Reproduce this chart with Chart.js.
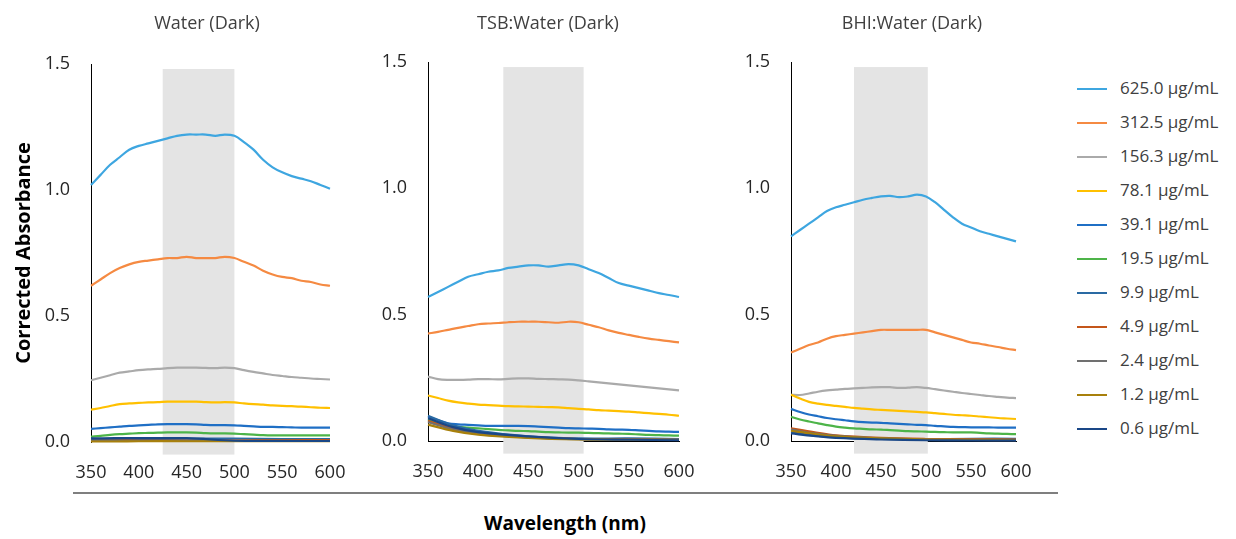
<!DOCTYPE html>
<html>
<head>
<meta charset="utf-8">
<script src="https://cdn.jsdelivr.net/npm/chart.js@4.4.1/dist/chart.umd.min.js"></script>
<style>
  body { margin: 0; background: #fff; font-family: "Open Sans", sans-serif; }
  #wrap { position: relative; width: 1236px; height: 539px; overflow: hidden; }
  canvas { position: absolute; top: 0; }
  .title { position: absolute; top: 10px; font-size: 18px; color: #404040; text-align: center; }
  #legend { position: absolute; left: 1077px; top: 77px; font-size: 17px; color: #404040; }
  #legend div { height: 34px; line-height: 22px; white-space: nowrap; }
  #legend span { display: inline-block; width: 30px; height: 2px; vertical-align: middle; margin-right: 13px; }
  #xline { position: absolute; left: 73px; top: 492px; width: 985px; height: 2px; background: #7f7f7f; }
  #xtitle { position: absolute; left: 0; width: 1130px; top: 510px; text-align: center; font-size: 19px; font-weight: bold; color: #000; }
</style>
</head>
<body>
<div id="wrap">
  <canvas id="c1" width="350" height="500" style="left:0px"></canvas>
  <canvas id="c2" width="339" height="500" style="left:360px"></canvas>
  <canvas id="c3" width="316" height="500" style="left:720px"></canvas>
  <div class="title" style="left:107px;width:200px">Water (Dark)</div>
  <div class="title" style="left:448px;width:200px">TSB:Water (Dark)</div>
  <div class="title" style="left:812px;width:200px">BHI:Water (Dark)</div>
  <div id="legend"></div>
  <div id="xline"></div>
  <div id="xtitle">Wavelength (nm)</div>
</div>
<script>
const wavelengths = [350, 360, 370, 380, 390, 400, 410, 420, 430, 440, 450, 460, 470, 480, 490, 500, 510, 520, 530, 540, 550, 560, 570, 580, 590, 600];
const coarse = [350, 375, 400, 450, 500, 550, 600];

const labels = ["625.0 µg/mL", "312.5 µg/mL", "156.3 µg/mL", "78.1 µg/mL", "39.1 µg/mL", "19.5 µg/mL", "9.9 µg/mL", "4.9 µg/mL", "2.4 µg/mL", "1.2 µg/mL", "0.6 µg/mL"];
const colors = ["#3ea6e0", "#f58a42", "#aaaaaa", "#ffc000", "#1f6fc5", "#4db449", "#2a6aa3", "#c4561a", "#707070", "#a8800c", "#1a4787"];

// Water (Dark)
const water625 = [1.02, 1.06, 1.10, 1.13, 1.16, 1.175, 1.185, 1.195, 1.205, 1.215, 1.22, 1.22, 1.22, 1.215, 1.22, 1.215, 1.19, 1.16, 1.12, 1.09, 1.07, 1.055, 1.045, 1.035, 1.02, 1.005];
const water312 = [0.62, 0.645, 0.67, 0.69, 0.705, 0.715, 0.72, 0.725, 0.73, 0.73, 0.735, 0.73, 0.73, 0.73, 0.735, 0.73, 0.715, 0.70, 0.68, 0.665, 0.655, 0.65, 0.64, 0.635, 0.625, 0.62];
const water156 = [0.245, 0.255, 0.265, 0.275, 0.28, 0.285, 0.288, 0.29, 0.293, 0.295, 0.295, 0.295, 0.294, 0.293, 0.295, 0.293, 0.285, 0.278, 0.272, 0.266, 0.262, 0.258, 0.255, 0.252, 0.25, 0.248];
const water78 = [0.128, 0.135, 0.143, 0.15, 0.153, 0.155, 0.157, 0.158, 0.16, 0.16, 0.16, 0.16, 0.158, 0.157, 0.158, 0.157, 0.153, 0.15, 0.148, 0.145, 0.143, 0.142, 0.14, 0.138, 0.136, 0.135];
const water39 = [0.052, 0.055, 0.058, 0.061, 0.064, 0.066, 0.068, 0.07, 0.071, 0.071, 0.071, 0.07, 0.068, 0.067, 0.067, 0.066, 0.064, 0.062, 0.06, 0.06, 0.059, 0.058, 0.057, 0.057, 0.057, 0.057];
const water19 = [0.021, 0.024, 0.028, 0.031, 0.033, 0.035, 0.036, 0.037, 0.038, 0.038, 0.038, 0.037, 0.035, 0.034, 0.034, 0.033, 0.031, 0.029, 0.027, 0.026, 0.026, 0.026, 0.026, 0.026, 0.026, 0.026];
const water9 = [0.010, 0.011, 0.012, 0.013, 0.013, 0.012, 0.012];
const water4 = [0.005, 0.006, 0.006, 0.006, 0.006, 0.007, 0.008];
const water2 = [0.004, 0.004, 0.004, 0.004, 0.004, 0.004, 0.004];
const water1 = [0.002, 0.002, 0.003, 0.003, 0.003, 0.003, 0.003];
const water06 = [0.014, 0.015, 0.015, 0.015, 0.005, 0.004, 0.004];

// TSB:Water (Dark)
const tsb625 = [0.57, 0.59, 0.61, 0.63, 0.65, 0.66, 0.67, 0.675, 0.685, 0.69, 0.695, 0.695, 0.69, 0.695, 0.70, 0.695, 0.68, 0.665, 0.645, 0.625, 0.615, 0.605, 0.595, 0.585, 0.578, 0.57];
const tsb312 = [0.425, 0.432, 0.44, 0.448, 0.455, 0.462, 0.465, 0.467, 0.47, 0.472, 0.472, 0.472, 0.47, 0.468, 0.472, 0.47, 0.46, 0.45, 0.438, 0.428, 0.42, 0.412, 0.405, 0.40, 0.395, 0.39];
const tsb156 = [0.255, 0.245, 0.242, 0.242, 0.243, 0.245, 0.245, 0.244, 0.246, 0.248, 0.248, 0.246, 0.245, 0.244, 0.243, 0.24, 0.236, 0.232, 0.228, 0.224, 0.22, 0.216, 0.212, 0.208, 0.204, 0.20];
const tsb78 = [0.18, 0.17, 0.16, 0.153, 0.148, 0.144, 0.142, 0.14, 0.138, 0.137, 0.136, 0.135, 0.134, 0.133, 0.13, 0.127, 0.125, 0.122, 0.12, 0.118, 0.116, 0.113, 0.11, 0.107, 0.104, 0.10];
const tsb39 = [0.096, 0.082, 0.07, 0.066, 0.064, 0.062, 0.06, 0.06, 0.06, 0.06, 0.059, 0.057, 0.055, 0.053, 0.051, 0.05, 0.049, 0.048, 0.046, 0.045, 0.044, 0.042, 0.04, 0.038, 0.037, 0.036];
const tsb19 = [0.085, 0.07, 0.06, 0.056, 0.053, 0.05, 0.047, 0.044, 0.042, 0.04, 0.039, 0.037, 0.035, 0.034, 0.033, 0.033, 0.032, 0.031, 0.03, 0.029, 0.028, 0.026, 0.024, 0.023, 0.022, 0.021];
const tsb9 = [0.10, 0.062, 0.04, 0.018, 0.010, 0.010, 0.008];
const tsb4 = [0.08, 0.05, 0.03, 0.015, 0.008, 0.006, 0.005];
const tsb2 = [0.075, 0.045, 0.028, 0.014, 0.007, 0.006, 0.005];
const tsb1 = [0.065, 0.04, 0.025, 0.012, 0.006, 0.005, 0.004];
const tsb06 = [0.09, 0.055, 0.035, 0.018, 0.008, 0.005, 0.003];

// BHI:Water (Dark)
const bhi625 = [0.81, 0.835, 0.86, 0.885, 0.91, 0.925, 0.935, 0.945, 0.955, 0.962, 0.968, 0.97, 0.965, 0.968, 0.975, 0.968, 0.945, 0.915, 0.885, 0.86, 0.845, 0.83, 0.82, 0.81, 0.80, 0.79];
const bhi312 = [0.35, 0.365, 0.38, 0.39, 0.405, 0.415, 0.42, 0.425, 0.43, 0.435, 0.44, 0.44, 0.44, 0.44, 0.44, 0.44, 0.43, 0.42, 0.41, 0.40, 0.39, 0.385, 0.378, 0.372, 0.365, 0.36];
const bhi156 = [0.183, 0.182, 0.188, 0.195, 0.20, 0.203, 0.206, 0.208, 0.21, 0.212, 0.213, 0.213, 0.21, 0.211, 0.213, 0.21, 0.205, 0.20, 0.195, 0.19, 0.186, 0.182, 0.178, 0.175, 0.172, 0.17];
const bhi78 = [0.183, 0.168, 0.155, 0.148, 0.143, 0.139, 0.135, 0.131, 0.128, 0.125, 0.123, 0.121, 0.119, 0.117, 0.115, 0.113, 0.11, 0.107, 0.104, 0.102, 0.10, 0.097, 0.094, 0.091, 0.089, 0.087];
const bhi39 = [0.127, 0.115, 0.105, 0.098, 0.091, 0.086, 0.082, 0.078, 0.075, 0.073, 0.072, 0.07, 0.068, 0.066, 0.064, 0.063, 0.06, 0.058, 0.056, 0.055, 0.054, 0.054, 0.054, 0.053, 0.053, 0.053];
const bhi19 = [0.096, 0.085, 0.077, 0.07, 0.063, 0.057, 0.053, 0.05, 0.048, 0.046, 0.045, 0.043, 0.041, 0.039, 0.038, 0.037, 0.036, 0.035, 0.034, 0.034, 0.034, 0.032, 0.03, 0.029, 0.028, 0.027];
const bhi9 = [0.035, 0.022, 0.014, 0.008, 0.007, 0.009, 0.009];
const bhi4 = [0.05, 0.035, 0.022, 0.012, 0.008, 0.007, 0.006];
const bhi2 = [0.045, 0.03, 0.02, 0.01, 0.006, 0.004, 0.003];
const bhi1 = [0.04, 0.028, 0.018, 0.01, 0.006, 0.005, 0.004];
const bhi06 = [0.03, 0.02, 0.012, 0.006, 0.003, 0.002, 0.002];

// shaded wavelength window per panel [from, to] and its height
const bands = [[425, 500], [425, 505], [420, 502]];
const bandY = [-0.05, 1.48];

const panels = [
  [water625, water312, water156, water78, water39, water19, water9, water4, water2, water1, water06],
  [tsb625, tsb312, tsb156, tsb78, tsb39, tsb19, tsb9, tsb4, tsb2, tsb1, tsb06],
  [bhi625, bhi312, bhi156, bhi78, bhi39, bhi19, bhi9, bhi4, bhi2, bhi1, bhi06],
];

// legend
const legendEl = document.getElementById("legend");
labels.forEach((l, i) => {
  const row = document.createElement("div");
  row.innerHTML = `<span style="background:${colors[i]}"></span>${l}`;
  legendEl.appendChild(row);
});

const bandPlugin = {
  id: "band",
  beforeDatasetsDraw(chart, args, opts) {
    const { ctx, scales } = chart;
    const x0 = scales.x.getPixelForValue(opts.from);
    const x1 = scales.x.getPixelForValue(opts.to);
    const y0 = scales.y.getPixelForValue(bandY[1]);
    const y1 = scales.y.getPixelForValue(bandY[0]);
    ctx.save();
    ctx.fillStyle = "#e4e4e4";
    ctx.fillRect(x0, y0, x1 - x0, y1 - y0);
    ctx.restore();
  },
};

// per-panel layout: y-axis width, top padding, x-axis height, draw x border
const layouts = [
  { yw: 91, top: 64, xh: 58, xb: false, title: true },
  { yw: 68, top: 62, xh: 59, xb: true, title: false },
  { yw: 71, top: 62, xh: 59, xb: true, title: false },
];

const tickFont = { family: "Open Sans", size: 18 };

panels.forEach((series, p) => {
  const L = layouts[p];
  const datasets = series.map((vals, i) => {
    const xs = vals.length === wavelengths.length ? wavelengths : coarse;
    return {
      label: labels[i],
      data: vals.map((v, k) => ({ x: xs[k], y: v })),
      borderColor: colors[i],
      backgroundColor: colors[i],
      borderWidth: 2.2,
      pointRadius: 0,
      tension: 0.35,
      fill: false,
    };
  }).reverse();

  new Chart(document.getElementById("c" + (p + 1)).getContext("2d"), {
    type: "line",
    data: { datasets },
    plugins: [bandPlugin],
    options: {
      responsive: false,
      animation: false,
      clip: false,
      layout: { padding: { top: L.top, right: 20, bottom: 0, left: 0 } },
      scales: {
        x: {
          type: "linear",
          min: 350,
          max: 600,
          grid: { display: false, drawTicks: false },
          border: { display: L.xb, color: "#000", width: 1 },
          ticks: { stepSize: 50, padding: 20, color: "#262626", font: tickFont, maxRotation: 0 },
          afterFit(scale) {
            scale.height = L.xh;
            scale.paddingLeft = 0;
            scale.paddingRight = 0;
          },
        },
        y: {
          min: 0,
          max: 1.5,
          grid: { display: false, drawTicks: false },
          border: { display: true, color: "#000", width: 1 },
          ticks: {
            stepSize: 0.5,
            padding: 21,
            color: "#262626",
            font: tickFont,
            callback: (v) => v.toFixed(1),
          },
          title: {
            display: L.title,
            text: "Corrected Absorbance",
            color: "#000",
            font: { family: "Open Sans", size: 20, weight: "bold" },
            padding: { top: 12, bottom: 0 },
          },
          afterFit(scale) {
            scale.width = L.yw;
            scale.paddingTop = 0;
            scale.paddingBottom = 0;
          },
        },
      },
      plugins: {
        legend: { display: false },
        tooltip: { enabled: false },
        band: { from: bands[p][0], to: bands[p][1] },
      },
    },
  });
});
</script>
</body>
</html>
